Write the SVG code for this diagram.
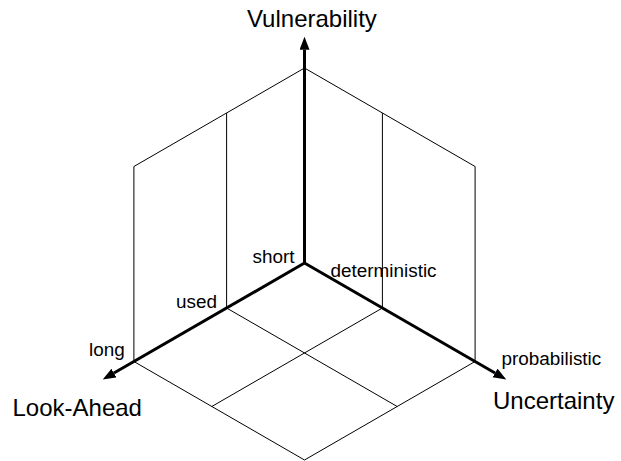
<svg xmlns="http://www.w3.org/2000/svg" width="621" height="461" viewBox="0 0 621 461">
  <style>
    .grid { stroke: #000; stroke-width: 1; fill: none; }
    .axis { stroke: #000; stroke-width: 3; fill: none; }
    .big { font-family: "Liberation Sans", Arial, sans-serif; font-size: 24px; fill: #000; }
    .small { font-family: "Liberation Sans", Arial, sans-serif; font-size: 18.9px; fill: #000; }
  </style>
  <defs>
    <marker id="arrow" markerUnits="userSpaceOnUse" markerWidth="14" markerHeight="11" refX="0" refY="5" orient="auto">
      <path d="M0,0 L13,5 L0,10 z" fill="#000"/>
    </marker>
  </defs>

  <rect width="621" height="461" fill="#fff"/>

  <!-- isometric grid: walls and floor -->
  <g id="grid">
    <!-- back walls -->
    <polyline class="grid" points="133.9,361.5 133.9,166.5 304.5,68 475.1,166.5 475.1,361.5"/>
    <line class="grid" x1="226.6" y1="308" x2="226.6" y2="113"/>
    <line class="grid" x1="382.4" y1="308" x2="382.4" y2="113"/>
    <!-- floor -->
    <polyline class="grid" points="133.9,361.5 304.5,460 475.1,361.5"/>
    <line class="grid" x1="226.6" y1="308" x2="397.2" y2="406.5"/>
    <line class="grid" x1="382.4" y1="308" x2="211.8" y2="406.5"/>
  </g>

  <!-- axes -->
  <g id="connectors">
    <line class="axis" x1="304.5" y1="263" x2="304.5" y2="49.7" marker-end="url(#arrow)"/>
    <line class="axis" x1="304.5" y1="263" x2="113.96" y2="373" marker-end="url(#arrow)"/>
    <line class="axis" x1="304.5" y1="263" x2="495.04" y2="373" marker-end="url(#arrow)"/>
  </g>

  <g id="vulnerability"><text class="big" x="247" y="27">Vulnerability</text></g>
  <g id="look-ahead"><text class="big" x="12.5" y="416">Look-Ahead</text></g>
  <g id="uncertainty"><text class="big" x="493" y="409">Uncertainty</text></g>

  <g id="short"><text class="small" x="252.5" y="263">short</text></g>
  <g id="used"><text class="small" x="176" y="308">used</text></g>
  <g id="long"><text class="small" x="89" y="356">long</text></g>
  <g id="deterministic"><text class="small" x="330.5" y="277">deterministic</text></g>
  <g id="probabilistic"><text class="small" x="501.5" y="365">probabilistic</text></g>
</svg>
